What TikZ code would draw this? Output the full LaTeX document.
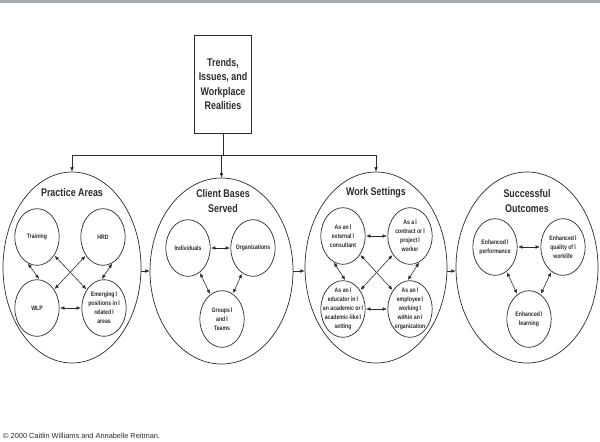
\documentclass[tikz,border=0pt]{standalone}
\usepackage{fontspec}
\setmainfont{Liberation Sans}[FakeStretch=0.8]
\newfontfamily\plainfont{Liberation Sans}
\usetikzlibrary{arrows.meta,shapes.geometric}
\definecolor{cBar}{HTML}{A7AAAD}
\definecolor{cLine}{HTML}{2B2B2B}
\newcommand{\eol}{\,l}
\tikzset{
  area/.style={ellipse, draw=cLine, line width=0.6pt, minimum width=4.26cm, minimum height=5.73cm, inner sep=0pt},
  item/.style={ellipse, draw=cLine, line width=0.6pt, minimum width=1.33cm, minimum height=1.7cm, inner sep=0pt,
    label={[itemtext]center:{#1}}},
  itemtext/.style={align=center, font=\fontsize{5.5}{7.7}\selectfont\bfseries, text=cLine},
  head/.style={align=center, font=\fontsize{9.5}{13.6}\selectfont\bfseries, text=cLine},
  topbox/.style={rectangle, draw=cLine, line width=0.6pt, minimum width=1.62cm, minimum height=2.94cm, align=center,
    font=\fontsize{9.5}{12.3}\selectfont\bfseries, text=cLine},
  link/.style={{Latex[length=1.3mm,width=1.1mm]}-{Latex[length=1.3mm,width=1.1mm]}, line width=0.5pt, cLine, shorten <=0.5pt, shorten >=0.5pt},
  flow/.style={-{Latex[length=1.3mm,width=1.1mm]}, line width=0.5pt, cLine},
  wire/.style={line width=0.6pt, cLine},
}
\begin{document}
\begin{tikzpicture}[x=0.03cm, y=-0.03cm]
  \useasboundingbox (0,0) rectangle (600,441);
  \fill[cBar] (0,0) rectangle (600,3);
  % source box and split line
  \node[topbox] (trends) at (223,84) {Trends,\\Issues, and\\Workplace\\Realities};
  \coordinate (split) at (223,155);
  % the four areas
  \node[area, minimum width=4.14cm] (pa) at (72,267.5) {};
  \node[area, minimum width=4.29cm, minimum height=5.58cm] (cb) at (221.5,271) {};
  \node[area] (ws) at (376,267.5) {};
  \node[area] (so) at (527,267.5) {};
  \node[head] at (72,193) {Practice Areas};
  \node[head] at (223,201) {Client Bases\\Served};
  \node[head] at (376,193) {Work Settings};
  \node[head] at (527,201) {Successful\\Outcomes};
  \draw[wire] (trends.south) -- (split);
  \draw[wire] (split -| pa.north) -- (split -| ws.north);
  \foreach \n in {pa, cb, ws}
    \draw[flow] (split -| \n.north) -- (\n.north);
  \draw[flow] (cb.west -| pa.east) -- (cb.west);
  \draw[flow] (cb.east) -- (cb.east -| ws.west);
  \draw[flow] (cb.east -| ws.east) -- (cb.east -| so.west);
  % practice areas
  \node[item={Training}] (trn) at (37,237) {};
  \node[item={HRD}] (hrd) at (103,237) {};
  \node[item={WLP}] (wlp) at (37,308) {};
  \node[item={Emerging\eol\\positions in\eol\\related\eol\\areas}] (emg) at (104,308) {};
  \draw[link] (trn.-110) -- (wlp.85);
  \draw[link] (hrd.-70) -- (emg.95);
  \foreach \a/\b in {trn/emg, hrd/wlp, wlp/emg}
    \draw[link] (\a) -- (\b);
  % client bases
  \node[item={Individuals}] (ind) at (188,248) {};
  \node[item={Organizations}] (org) at (253,248) {};
  \node[item={Groups\eol\\and\eol\\Teams}] (grp) at (222,319) {};
  \foreach \a/\b in {ind/org, ind/grp, org/grp}
    \draw[link] (\a) -- (\b);
  % work settings
  \node[item={As an\eol\\external\eol\\consultant}] (ext) at (343,236) {};
  \node[item={As a\eol\\contract or\eol\\project\eol\\worker}] (con) at (410,236) {};
  \node[item={As an\eol\\educator in\eol\\an academic or\eol\\academic-like\eol\\setting}] (edu) at (343,309) {};
  \node[item={As an\eol\\employee\eol\\working\eol\\within an\eol\\organization}] (emp) at (410,309) {};
  \draw[link] (ext.-110) -- (edu.85);
  \draw[link] (con.-70) -- (emp.95);
  \foreach \a/\b in {ext/con, ext/emp, con/edu, edu/emp}
    \draw[link] (\a) -- (\b);
  % outcomes
  \node[item={Enhanced\eol\\performance}] (prf) at (495,247) {};
  \node[item={Enhanced\eol\\quality of\eol\\worklife}] (qol) at (563,247) {};
  \node[item={Enhanced\eol\\learning}] (lrn) at (529,319) {};
  \foreach \a/\b in {prf/qol, prf/lrn, qol/lrn}
    \draw[link] (\a) -- (\b);
  \node[anchor=west, inner sep=0pt, font=\plainfont\fontsize{6.3}{7}\selectfont, text=cLine] (copy) at (3,436)
    {© 2000 Caitlin Williams and Annabelle Reitman.};
\end{tikzpicture}
\end{document}
